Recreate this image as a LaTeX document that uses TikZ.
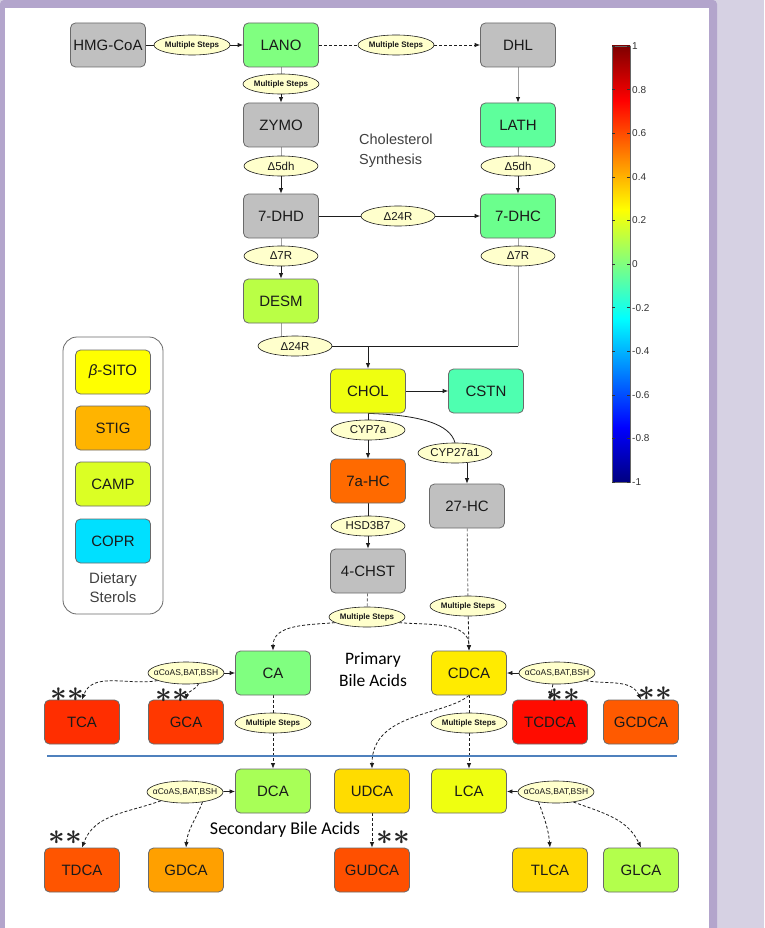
\documentclass[tikz,border=0pt]{standalone}
\usepackage{fontspec}
\setmainfont{Liberation Sans}
\newfontfamily\calib{Carlito}
\usetikzlibrary{arrows.meta,shapes.geometric,backgrounds}
\definecolor{bgl}{HTML}{D6D1E3}
\definecolor{frm}{HTML}{B3A5CC}
\definecolor{gbox}{HTML}{C0C0C0}
\definecolor{bxd}{HTML}{6A6A6A}
\definecolor{cream}{HTML}{FFFFCC}
\definecolor{lnc}{HTML}{1E1E1E}
\definecolor{lng}{HTML}{A0A0A0}
\definecolor{lnd}{HTML}{707070}
\definecolor{txc}{HTML}{1A1A1A}
\definecolor{blu}{HTML}{4F81BD}
\definecolor{cLANO}{HTML}{80FF80}
\definecolor{cLATH}{HTML}{5EFF9C}
\definecolor{cDHC}{HTML}{6BFF8D}
\definecolor{cDESM}{HTML}{BAFF45}
\definecolor{cCHOL}{HTML}{EFFF10}
\definecolor{cCSTN}{HTML}{4EFFB0}
\definecolor{cAHC}{HTML}{FF6A00}
\definecolor{cCA}{HTML}{80FF80}
\definecolor{cCDCA}{HTML}{FFEB00}
\definecolor{cTCA}{HTML}{FF2E00}
\definecolor{cGCA}{HTML}{FF3800}
\definecolor{cTCDCA}{HTML}{FF0C00}
\definecolor{cGCDCA}{HTML}{FF5A00}
\definecolor{cDCA}{HTML}{A8FF57}
\definecolor{cUDCA}{HTML}{FFDC00}
\definecolor{cLCA}{HTML}{EFFF10}
\definecolor{cTDCA}{HTML}{FF5500}
\definecolor{cGDCA}{HTML}{FFA000}
\definecolor{cGUDCA}{HTML}{FF5000}
\definecolor{cTLCA}{HTML}{FFD800}
\definecolor{cGLCA}{HTML}{B3FF4C}
\definecolor{cSITO}{HTML}{FFFF00}
\definecolor{cSTIG}{HTML}{FFB400}
\definecolor{cCAMP}{HTML}{DBFF24}
\definecolor{cCOPR}{HTML}{00E0FF}
\definecolor{jA}{rgb}{0,0,0.5}
\definecolor{jB}{rgb}{0,0,1}
\definecolor{jC}{rgb}{0,1,1}
\definecolor{jD}{rgb}{1,1,0}
\definecolor{jE}{rgb}{1,0,0}
\definecolor{jF}{rgb}{0.5,0,0}
\newcommand\ez[1]{\makebox[0pt]{#1}}
\newcommand\twoast{{\boldmath$\ast\ast$}}
\begin{document}
\begin{tikzpicture}[x=1pt,y=1pt,
  box/.style={draw=bxd, line width=0.8pt, rounded corners=5pt, minimum width=75pt, minimum height=44pt, inner sep=0pt, text=txc, font=\fontsize{15}{15}\selectfont},
  enz/.style={ellipse, draw=lnc, fill=cream, line width=0.6pt, minimum width=74pt, minimum height=20pt, inner sep=0pt, text=txc, font=\fontsize{11.5}{11.5}\selectfont},
  ms/.style={enz, minimum width=76pt, font=\bfseries\fontsize{8}{8}\selectfont},
  co/.style={enz, minimum width=76pt, minimum height=22pt, font=\fontsize{8.5}{8.5}\selectfont},
  bl/.style={draw=lnc, line width=0.8pt},
  gl/.style={draw=lng, line width=0.9pt},
  dl/.style={draw=lnd, line width=0.9pt},
  arr/.style={-{Latex[length=5.5pt,width=4.5pt,color=lnc,fill=lnc]}},
  dsh/.style={dash pattern=on 3pt off 2pt},
  astk/.style={scale=2.9, text=black!85, inner sep=0pt},
  ]
\useasboundingbox (0,0) rectangle (764,-928);
\begin{scope}[on background layer]
\fill[bgl] (0,0) rectangle (764,-928);
\fill[frm, rounded corners=4pt] (0,0) rectangle (717,-940);
\fill[white] (5,-8) rectangle (709,-928);
\end{scope}

% cholesterol synthesis
\node[box, fill=gbox] (hmg) at (108,-45) {HMG-CoA};
\node[ms] (e1) at (192,-45) {\ez{Multiple Steps}};
\node[box, fill=cLANO] (lano) at (281,-45) {LANO};
\node[ms] (e2) at (396,-45) {\ez{Multiple Steps}};
\node[box, fill=gbox] (dhl) at (518,-45) {DHL};
\node[ms] (e3) at (281,-84) {\ez{Multiple Steps}};
\node[box, fill=gbox] (zymo) at (281,-125) {ZYMO};
\node[enz] (d5a) at (281,-166) {\ez{Δ5dh}};
\node[box, fill=gbox] (dhd) at (281,-216) {7-DHD};
\node[enz] (d7a) at (281,-256) {\ez{Δ7R}};
\node[box, fill=cDESM] (desm) at (281,-301) {DESM};
\node[enz] (d24a) at (295,-346) {\ez{Δ24R}};
\node[box, fill=cLATH] (lath) at (518,-125) {LATH};
\node[enz] (d5b) at (518,-166) {\ez{Δ5dh}};
\node[box, fill=cDHC] (dhc) at (518,-216) {7-DHC};
\node[enz] (d7b) at (518,-256) {\ez{Δ7R}};
\node[enz] (d24m) at (398,-216) {\ez{Δ24R}};
\node[anchor=north west, align=left, text=black!75, inner sep=0pt, font=\fontsize{14.5}{20}\selectfont] (cs) at (359,-134) {Cholesterol\\Synthesis};
\coordinate (j1) at (368,-346);
\coordinate (j2) at (518,-346);

% cholesterol and oxysterols
\node[box, fill=cCHOL] (chol) at (368,-391) {CHOL};
\node[box, fill=cCSTN] (cstn) at (486,-391) {CSTN};
\node[enz] (cyp7) at (368,-430) {\ez{CYP7a}};
\node[enz] (cyp27) at (455,-453) {\ez{CYP27a1}};
\node[box, fill=cAHC] (ahc) at (368,-481) {7a-HC};
\node[box, fill=gbox] (hc27) at (467,-506) {27-HC};
\node[enz] (hsd) at (368,-526) {\ez{HSD3B7}};
\node[box, fill=gbox] (chst) at (368,-571) {4-CHST};
\node[ms] (ms1) at (367,-617) {\ez{Multiple Steps}};
\node[ms] (ms2) at (468,-606) {\ez{Multiple Steps}};

% legend
\node[draw=bxd, line width=0.8pt, rounded corners=14pt, minimum width=100pt, minimum height=277pt] (leg) at (113,-475.5) {};
\node[box, fill=cSITO] (sito) at (113,-372) {{\itshape β}-SITO};
\node[box, fill=cSTIG] (stig) at (113,-428) {STIG};
\node[box, fill=cCAMP] (camp) at (113,-484) {CAMP};
\node[box, fill=cCOPR] (copr) at (113,-541) {COPR};
\node[align=center, text=black!75, font=\fontsize{15}{19}\selectfont] (diet) at (113,-588) {Dietary\\Sterols};

% primary bile acids
\node[box, fill=cCA] (ca) at (273,-673) {CA};
\node[box, fill=cCDCA] (cdca) at (469,-673) {CDCA};
\node[align=center, font=\calib\fontsize{17.5}{22}\selectfont] (pba) at (373,-670) {Primary\\Bile Acids};
\node[co] (lc1) at (186,-673) {\ez{αCoAS,BAT,BSH}};
\node[co] (rc1) at (557,-673) {\ez{αCoAS,BAT,BSH}};
\node[box, fill=cTCA] (tca) at (82,-722) {TCA};
\node[box, fill=cGCA] (gca) at (186,-722) {GCA};
\node[box, fill=cTCDCA] (tcdca) at (550,-722) {TCDCA};
\node[box, fill=cGCDCA] (gcdca) at (641,-722) {GCDCA};
\node[ms] (ms3) at (273,-723) {\ez{Multiple Steps}};
\node[ms] (ms4) at (469,-723) {\ez{Multiple Steps}};

% separator
\coordinate (s1) at (47,-756);
\coordinate (s2) at (677,-756);
\draw[blu, line width=2pt] (s1) -- (s2);

% secondary bile acids
\node[box, fill=cDCA] (dca) at (273,-791) {DCA};
\node[box, fill=cUDCA] (udca) at (372,-791) {UDCA};
\node[box, fill=cLCA] (lca) at (469,-791) {LCA};
\node[co] (lc2) at (185,-792) {\ez{αCoAS,BAT,BSH}};
\node[co] (rc2) at (556,-792) {\ez{αCoAS,BAT,BSH}};
\node[font=\calib\fontsize{18}{18}\selectfont] (sba) at (285,-830) {Secondary Bile Acids};
\node[box, fill=cTDCA] (tdca) at (82,-870) {TDCA};
\node[box, fill=cGDCA] (gdca) at (186,-870) {GDCA};
\node[box, fill=cGUDCA] (gudca) at (372,-870) {GUDCA};
\node[box, fill=cTLCA] (tlca) at (550,-870) {TLCA};
\node[box, fill=cGLCA] (glca) at (641,-870) {GLCA};

% asterisks
\node[astk] (a1) at (67,-695) {\twoast};
\node[astk] (a2) at (172,-696) {\twoast};
\node[astk] (a3) at (563,-696) {\twoast};
\node[astk] (a4) at (655,-694) {\twoast};
\node[astk] (a5) at (65,-838) {\twoast};
\node[astk] (a6) at (393,-838) {\twoast};

% colorbar
\foreach \ya/\yb/\ca/\cb in {-482/-427.5/jA/jB, -427.5/-318.5/jB/jC, -318.5/-209.5/jC/jD, -209.5/-100.5/jD/jE, -100.5/-46/jE/jF}
  \shade[bottom color=\ca, top color=\cb] (612,\ya) rectangle (630,\yb);
\draw[black!60, line width=0.5pt] (612,-482) rectangle (630,-46);
\foreach \v [count=\i from 0] in {1,0.8,0.6,0.4,0.2,0,-0.2,-0.4,-0.6,-0.8,-1} {
  \pgfmathsetmacro\yy{-46-43.6*\i}
  \draw[black!80, line width=0.5pt] (612,\yy) -- (615,\yy) (627,\yy) -- (630,\yy);
  \node[anchor=west, font=\fontsize{10}{10}\selectfont, text=black!80, inner sep=0pt] (cb\i) at (632,\yy) {\v};
}

% connectors
\begin{scope}[on background layer]
\draw[bl] (hmg) -- (e1);
\draw[bl,arr] (e1) -- (lano);
\draw[bl,dsh] (lano) -- (e2);
\draw[bl,dsh,arr] (e2) -- (dhl);
\draw[gl] (lano) -- (e3);
\draw[bl,arr] (e3) -- (zymo);
\draw[gl,arr] (dhl) -- (lath);
\draw[gl] (zymo) -- (d5a);
\draw[bl,arr] (d5a) -- (dhd);
\draw[gl] (lath) -- (d5b);
\draw[bl,arr] (d5b) -- (dhc);
\draw[bl] (dhd) -- (d24m);
\draw[bl,arr] (d24m) -- (dhc);
\draw[gl] (dhd) -- (d7a);
\draw[bl,arr] (d7a) -- (desm);
\draw[gl] (dhc) -- (d7b);
\draw[gl] (d7b) -- (j2);
\draw[gl] (desm.south) -- (desm.south |- d24a.center);
\draw[bl] (d24a.east) -- (j2);
\draw[bl,arr] (j1) -- (chol);
\draw[bl,arr] (chol) -- (cstn);
\draw[bl] (chol) -- (cyp7);
\draw[bl,arr] (cyp7) -- (ahc);
\draw[bl] (chol.south) .. controls (420,-415) and (450,-424) .. (cyp27.north);
\draw[bl,arr] (cyp27.south -| hc27.north) -- (hc27.north);
\draw[bl] (ahc) -- (hsd);
\draw[bl,arr] (hsd) -- (chst);
\draw[dl,dsh] (chst) -- (ms1);
\draw[bl,dsh,arr] (ms1.190) to[out=185,in=90] (ca.north);
\draw[bl,dsh,arr] (ms1.-10) to[out=-5,in=90] (cdca.north);
\draw[dl,dsh] (hc27) -- (ms2);
\draw[bl,dsh,arr] (ms2) -- (cdca.north);
\draw[bl,arr] (lc1) -- (ca);
\draw[bl,dsh,arr] (lc1.195) to[out=190,in=70] (tca.north);
\draw[bl,dsh,arr] (lc1.-40) to[out=240,in=80] (gca.north);
\draw[bl,arr] (rc1) -- (cdca);
\draw[bl,dsh,arr] (rc1.-110) -- (tcdca.north);
\draw[bl,dsh,arr] (rc1.-15) to[out=-10,in=115] (gcdca.north);
\draw[bl,dsh] (ca) -- (ms3);
\draw[bl,dsh,arr] (ms3) -- (dca);
\draw[bl,dsh] (cdca) -- (ms4);
\draw[bl,dsh,arr] (ms4) -- (lca);
\draw[bl,dsh,arr] (cdca.south) .. controls (445,-716) and (372,-712) .. (udca.north);
\draw[bl,arr] (lc2) -- (dca);
\draw[bl,dsh,arr] (lc2.200) to[out=200,in=70] (tdca.north);
\draw[bl,dsh,arr] (lc2.-30) to[out=250,in=85] (gdca.north);
\draw[bl,arr] (rc2) -- (lca);
\draw[bl,dsh,arr] (rc2.-150) to[out=-70,in=95] (tlca.north);
\draw[bl,dsh,arr] (rc2.-30) to[out=-20,in=115] (glca.north);
\draw[bl,dsh,arr] (udca) -- (gudca);
\end{scope}
\end{tikzpicture}
\end{document}
